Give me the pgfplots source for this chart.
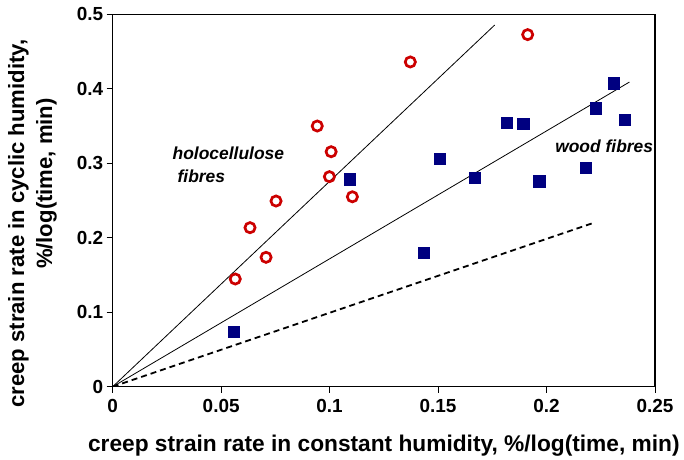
\documentclass[border=0pt]{standalone}
\usepackage{fontspec}
\setmainfont{Liberation Sans}
\usepackage{pgfplots}
\pgfplotsset{compat=1.18}
\definecolor{hcred}{RGB}{204,0,0}
\definecolor{wfblue}{RGB}{0,0,128}

\begin{document}
\begin{tikzpicture}
  \begin{axis}[
      scale only axis, width=542.3bp, height=372.4bp,
      xmin=0, xmax=0.25, ymin=0, ymax=0.5,
      xtick={0,0.05,0.1,0.15,0.2,0.25},
      ytick={0,0.1,0.2,0.3,0.4,0.5},
      tick pos=left, tick align=outside, major tick length=6bp,
      axis line style={line width=1.2bp},
      tick style={line width=1bp, black},
      /pgf/number format/assume math mode=true,
      /pgf/number format/fixed,
      ticklabel style={font=\fontsize{19}{21}\selectfont\bfseries},
      xticklabel style={yshift=-3bp},
      xlabel={creep strain rate in constant humidity, \%/log(time, min)},
      xlabel style={font=\fontsize{22.8}{26}\selectfont\bfseries,
        at={(axis description cs:0.5,0)}, anchor=base, yshift=-64.7bp},
      ylabel={creep strain rate in cyclic humidity,\\\hspace*{80bp}\%/log(time, min)},
      ylabel style={font=\fontsize{22.2}{28}\selectfont\bfseries, align=center,
        inner sep=0pt, at={(axis description cs:-0.1027,0.438)}, anchor=south},
    ]
    % fitted lines
    \addplot[black, line width=0.8bp] coordinates {(0,0) (0.1761,0.4856)};
    \addplot[black, line width=0.8bp] coordinates {(0,0) (0.2382,0.4090)};
    \addplot[black, line width=1.8bp, dash pattern=on 6bp off 4bp] coordinates {(0,0) (0.2224,0.2207)};

    % holocellulose fibres
    \addplot[only marks, mark=o, mark size=5.1bp, mark options={hcred, line width=2.7bp}]
      coordinates {
        (0.0565,0.1446) (0.0633,0.2135) (0.0707,0.1737) (0.0753,0.2493)
        (0.0943,0.3500) (0.0999,0.2820) (0.1007,0.3155) (0.1105,0.2550)
        (0.1372,0.4360) (0.1913,0.4727)
      };

    % wood fibres
    \addplot[only marks, mark=square*, mark size=5.6bp, mark options={wfblue, fill=wfblue}]
      coordinates {
        (0.0559,0.0739) (0.1091,0.2785) (0.1434,0.1800) (0.1509,0.3057)
        (0.1669,0.2802) (0.1816,0.3545) (0.1892,0.3536) (0.1966,0.2758)
        (0.2181,0.2940) (0.2228,0.3738) (0.2308,0.4074) (0.2362,0.3580)
      };

    \node[anchor=base west, font=\fontsize{17.5}{19}\selectfont\bfseries\itshape]
      at (axis cs:0.026,0.3044) {holocellulose};
    \node[anchor=base west, font=\fontsize{17.5}{19}\selectfont\bfseries\itshape]
      at (axis cs:0.0283,0.2740) {fibres};
    \node[anchor=base west, font=\fontsize{17.5}{19}\selectfont\bfseries\itshape]
      at (axis cs:0.2024,0.3142) {wood fibres};
  \end{axis}
  \path[use as bounding box] (-112.7bp,-71.3bp) rectangle (571.3bp,386.7bp);
\end{tikzpicture}
\end{document}
